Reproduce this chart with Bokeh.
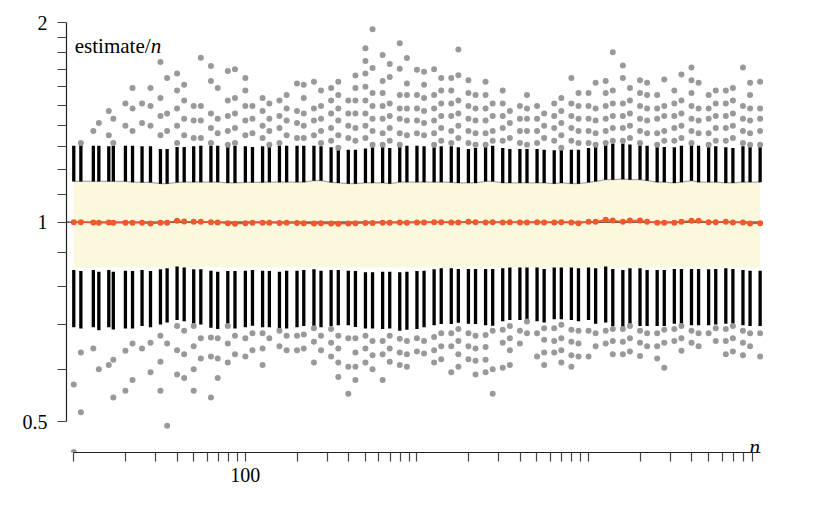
from bokeh.plotting import figure
from bokeh.models import FixedTicker, CustomJSTickFormatter, ColumnDataSource, Range1d
from bokeh.core.properties import value
from bokeh.embed import file_html
from bokeh.resources import INLINE
import json

# ---------------- data ----------------
n_values = [10, 11, 13, 14, 16, 17, 20, 22, 25, 28, 32, 35, 40, 44, 50, 55, 63, 69, 79, 87,
            100, 110, 126, 138, 158, 174, 200, 219, 251, 276, 316, 348, 398, 438, 501, 551,
            631, 694, 794, 874, 1000, 1100, 1259, 1385, 1585, 1743, 1995, 2195, 2512, 2763,
            3162, 3479, 3981, 4379, 5012, 5513, 6310, 6941, 7943, 8738, 10000, 11000, 12589,
            13848, 15849, 17434, 19953, 21948, 25119, 27631, 31623, 34785, 39811, 43792,
            50119, 55131, 63096, 69405, 79433, 87376, 100000]

median = [1.000, 1.000, 0.999, 0.998, 0.999, 0.998, 0.998, 0.998, 0.998, 0.995, 0.998, 0.998,
          1.0045, 1.002, 1.001, 1.001, 1.000, 0.999, 0.9965, 0.994, 0.9965, 0.998, 0.998, 0.998,
          0.997, 0.998, 0.997, 0.996, 0.995, 0.996, 0.995, 0.994, 0.995, 0.996, 0.997, 0.997,
          0.998, 0.998, 0.999, 0.998, 0.999, 0.999, 1.000, 1.000, 0.999, 0.999, 1.001, 1.000,
          0.999, 1.000, 0.999, 1.000, 0.999, 0.999, 1.000, 0.999, 0.999, 1.000, 0.999, 0.9965,
          1.001, 1.001, 1.008, 1.0056, 1.001, 1.0056, 1.0056, 1.001, 0.998, 0.998, 0.998, 1.001,
          1.0045, 1.0045, 1.000, 1.000, 1.001, 0.999, 0.999, 0.995, 0.9965]

upper_whisker_top = [1.304, 1.309, 1.304, 1.304, 1.301, 1.304, 1.304, 1.304, 1.301, 1.301, 1.289,
                     1.289, 1.298, 1.298, 1.301, 1.304, 1.304, 1.304, 1.298, 1.304, 1.301, 1.298,
                     1.301, 1.304, 1.304, 1.304, 1.304, 1.304, 1.304, 1.301, 1.297, 1.294, 1.286,
                     1.286, 1.291, 1.297, 1.301, 1.294, 1.304, 1.304, 1.304, 1.301, 1.297, 1.301,
                     1.301, 1.297, 1.289, 1.294, 1.304, 1.304, 1.294, 1.289, 1.289, 1.289, 1.289,
                     1.286, 1.283, 1.289, 1.286, 1.286, 1.294, 1.298, 1.314, 1.314, 1.314, 1.309,
                     1.314, 1.304, 1.301, 1.298, 1.297, 1.304, 1.314, 1.304, 1.301, 1.301, 1.297,
                     1.294, 1.301, 1.301, 1.301]

upper_whisker_bottom = [1.152, 1.152, 1.152, 1.152, 1.152, 1.152, 1.152, 1.149, 1.148, 1.148, 1.143,
                        1.143, 1.148, 1.149, 1.149, 1.149, 1.149, 1.149, 1.146, 1.146, 1.148, 1.148,
                        1.148, 1.149, 1.149, 1.149, 1.149, 1.149, 1.155, 1.155, 1.148, 1.146, 1.143,
                        1.143, 1.146, 1.146, 1.146, 1.143, 1.149, 1.149, 1.149, 1.149, 1.149, 1.149,
                        1.148, 1.146, 1.146, 1.146, 1.152, 1.152, 1.146, 1.146, 1.146, 1.146, 1.146,
                        1.146, 1.143, 1.146, 1.143, 1.143, 1.148, 1.152, 1.159, 1.159, 1.161, 1.159,
                        1.159, 1.155, 1.149, 1.149, 1.146, 1.149, 1.155, 1.149, 1.149, 1.149, 1.146,
                        1.146, 1.149, 1.149, 1.149]

lower_whisker_top = [0.847, 0.844, 0.847, 0.842, 0.847, 0.842, 0.845, 0.844, 0.847, 0.844, 0.849,
                     0.852, 0.857, 0.854, 0.849, 0.849, 0.845, 0.842, 0.844, 0.844, 0.845, 0.847,
                     0.845, 0.844, 0.842, 0.845, 0.845, 0.847, 0.849, 0.845, 0.847, 0.847, 0.845,
                     0.844, 0.840, 0.840, 0.842, 0.842, 0.840, 0.842, 0.844, 0.845, 0.849, 0.852,
                     0.852, 0.850, 0.850, 0.850, 0.850, 0.850, 0.852, 0.854, 0.854, 0.854, 0.854,
                     0.850, 0.854, 0.854, 0.854, 0.852, 0.854, 0.852, 0.857, 0.850, 0.847, 0.852,
                     0.852, 0.847, 0.847, 0.847, 0.850, 0.850, 0.850, 0.850, 0.849, 0.850, 0.852,
                     0.850, 0.847, 0.845, 0.845]

lower_whisker_bottom = [0.694, 0.691, 0.694, 0.687, 0.694, 0.689, 0.691, 0.691, 0.697, 0.694, 0.701,
                        0.706, 0.712, 0.709, 0.703, 0.701, 0.693, 0.690, 0.697, 0.691, 0.694, 0.698,
                        0.694, 0.694, 0.689, 0.691, 0.694, 0.697, 0.694, 0.694, 0.697, 0.699, 0.699,
                        0.695, 0.691, 0.691, 0.690, 0.691, 0.686, 0.688, 0.690, 0.694, 0.699, 0.702,
                        0.702, 0.705, 0.703, 0.702, 0.699, 0.698, 0.709, 0.712, 0.712, 0.714, 0.709,
                        0.706, 0.714, 0.714, 0.712, 0.709, 0.712, 0.703, 0.706, 0.697, 0.693, 0.699,
                        0.697, 0.697, 0.697, 0.697, 0.703, 0.701, 0.699, 0.699, 0.699, 0.701, 0.703,
                        0.699, 0.699, 0.697, 0.697]

band_bottom = 0.854

upper_outliers = [
    [], [1.316], [1.372], [1.411], [1.471, 1.352], [1.432, 1.316], [1.510, 1.398],
    [1.593, 1.484, 1.372], [1.510, 1.411], [1.593, 1.497, 1.398],
    [1.743, 1.539, 1.446, 1.352], [1.650, 1.458, 1.372],
    [1.675, 1.580, 1.484, 1.398, 1.316], [1.611, 1.526, 1.432, 1.352],
    [1.497, 1.423, 1.339], [1.770, 1.497, 1.423, 1.339],
    [1.719, 1.632, 1.458, 1.386, 1.316], [1.593, 1.432, 1.362],
    [1.690, 1.526, 1.446, 1.372, 1.308], [1.700, 1.539, 1.458, 1.386, 1.316],
    [1.650, 1.580, 1.497, 1.423, 1.352], [1.497, 1.432, 1.362],
    [1.539, 1.471, 1.398, 1.339], [1.510, 1.432, 1.372, 1.308],
    [1.526, 1.446, 1.386, 1.316], [1.555, 1.484, 1.423, 1.352],
    [1.618, 1.471, 1.411, 1.339], [1.611, 1.539, 1.458, 1.398, 1.339],
    [1.628, 1.484, 1.423, 1.352], [1.580, 1.497, 1.432, 1.372, 1.316],
    [1.593, 1.526, 1.458, 1.386, 1.327], [1.628, 1.555, 1.484, 1.423, 1.352, 1.295],
    [1.526, 1.458, 1.398, 1.339], [1.664, 1.593, 1.526, 1.458, 1.386, 1.327],
    [1.829, 1.749, 1.675, 1.600, 1.526, 1.458, 1.398, 1.339],
    [1.954, 1.707, 1.566, 1.497, 1.432, 1.372, 1.308],
    [1.787, 1.632, 1.566, 1.497, 1.432, 1.362, 1.308],
    [1.731, 1.655, 1.510, 1.446, 1.386, 1.327],
    [1.861, 1.704, 1.555, 1.484, 1.432, 1.362, 1.308],
    [1.768, 1.618, 1.555, 1.484, 1.423, 1.352],
    [1.697, 1.555, 1.484, 1.423, 1.362],
    [1.686, 1.611, 1.539, 1.471, 1.411, 1.352],
    [1.700, 1.555, 1.484, 1.423, 1.362, 1.308],
    [1.650, 1.580, 1.510, 1.446, 1.386, 1.327],
    [1.650, 1.580, 1.510, 1.446, 1.372, 1.316],
    [1.821, 1.666, 1.526, 1.458, 1.398, 1.339],
    [1.636, 1.566, 1.497, 1.432, 1.372, 1.316],
    [1.555, 1.484, 1.423, 1.362, 1.308],
    [1.628, 1.555, 1.484, 1.423, 1.362, 1.308],
    [1.510, 1.446, 1.372, 1.327],
    [1.580, 1.510, 1.446, 1.386, 1.327],
    [1.471, 1.411, 1.339],
    [1.497, 1.432, 1.372, 1.316],
    [1.555, 1.484, 1.432, 1.372, 1.308],
    [1.497, 1.432, 1.372, 1.316],
    [1.458, 1.398, 1.339],
    [1.510, 1.446, 1.386, 1.327],
    [1.539, 1.471, 1.411, 1.352, 1.295],
    [1.650, 1.510, 1.446, 1.386, 1.327],
    [1.566, 1.497, 1.432, 1.372, 1.316],
    [1.566, 1.497, 1.432, 1.372, 1.316],
    [1.623, 1.484, 1.423, 1.362, 1.308],
    [1.632, 1.566, 1.497, 1.432, 1.372, 1.316],
    [1.804, 1.580, 1.510, 1.446, 1.386, 1.327],
    [1.722, 1.650, 1.510, 1.446, 1.386, 1.327],
    [1.593, 1.526, 1.458, 1.398, 1.339],
    [1.636, 1.566, 1.497, 1.432, 1.372, 1.316],
    [1.623, 1.555, 1.484, 1.423, 1.362],
    [1.555, 1.484, 1.432, 1.362, 1.308],
    [1.641, 1.497, 1.446, 1.372, 1.327],
    [1.580, 1.510, 1.446, 1.386, 1.327],
    [1.670, 1.526, 1.458, 1.398, 1.339],
    [1.710, 1.636, 1.566, 1.497, 1.432, 1.372, 1.316],
    [1.623, 1.484, 1.423, 1.362],
    [1.555, 1.484, 1.432, 1.362, 1.308],
    [1.580, 1.510, 1.446, 1.386, 1.327],
    [1.580, 1.510, 1.446, 1.386, 1.327],
    [1.593, 1.526, 1.458, 1.398, 1.339],
    [1.710, 1.497, 1.432, 1.372, 1.316],
    [1.623, 1.555, 1.484, 1.423, 1.362, 1.308],
    [1.628, 1.484, 1.432, 1.372, 1.308],
]

lower_outliers = [
    [0.569, 0.450], [0.636, 0.517], [0.645], [0.600], [0.609], [0.620, 0.544],
    [0.640, 0.557], [0.656, 0.578], [0.645], [0.658, 0.594], [0.674, 0.616, 0.557],
    [0.656, 0.493], [0.697, 0.641, 0.589], [0.686, 0.632, 0.582],
    [0.697, 0.650, 0.600, 0.557], [0.668, 0.623], [0.670, 0.627, 0.544],
    [0.668, 0.623, 0.582], [0.697, 0.656, 0.614], [0.674, 0.632], [0.668, 0.627],
    [0.680, 0.641], [0.680, 0.645, 0.609], [0.668], [0.686, 0.650], [0.674, 0.641],
    [0.674, 0.641], [0.677, 0.645], [0.692, 0.660, 0.614], [0.674, 0.641],
    [0.690, 0.658, 0.627], [0.674, 0.645, 0.614, 0.584], [0.668, 0.605, 0.551],
    [0.668, 0.636, 0.605, 0.578], [0.674, 0.645, 0.614], [0.662, 0.630, 0.600],
    [0.662, 0.632, 0.578], [0.674, 0.645, 0.616], [0.667, 0.636, 0.609],
    [0.662, 0.632, 0.605], [0.668, 0.638], [0.662, 0.634], [0.671, 0.641, 0.614],
    [0.680, 0.650, 0.621], [0.680, 0.650, 0.594], [0.690, 0.662, 0.632, 0.605],
    [0.680, 0.650, 0.621], [0.674, 0.645, 0.618, 0.589], [0.676, 0.648, 0.620, 0.594],
    [0.686, 0.600, 0.551], [0.688, 0.658, 0.603], [0.697, 0.668, 0.641, 0.609],
    [0.686, 0.656], [0.708, 0.680], [0.680, 0.627], [0.692, 0.665, 0.636, 0.609],
    [0.692, 0.662, 0.636], [0.700, 0.668, 0.641, 0.614], [0.688, 0.660, 0.630, 0.605],
    [0.686, 0.656, 0.627], [0.686, 0.627], [0.680, 0.650], [0.686, 0.656],
    [0.690, 0.662, 0.632], [0.690, 0.660, 0.632], [0.697, 0.668, 0.638],
    [0.686, 0.658, 0.628], [0.680, 0.650], [0.680, 0.650, 0.623], [0.688, 0.658, 0.603],
    [0.690, 0.662], [0.697, 0.668, 0.640], [0.686, 0.658], [0.680, 0.650], [0.680],
    [0.692, 0.662], [0.690, 0.662, 0.632], [0.697, 0.668, 0.638], [0.686, 0.658, 0.630],
    [0.680, 0.650], [0.680, 0.627],
]

x_ticks = [10, 20, 30, 40, 50, 60, 70, 80, 90,
           100, 200, 300, 400, 500, 600, 700, 800, 900,
           1000, 2000, 3000, 4000, 5000, 6000, 7000, 8000, 9000,
           10000, 20000, 30000, 40000, 50000, 60000, 70000, 80000, 90000]
x_tick_labels = ["100" if t == 100 else "" for t in x_ticks]
y_ticks = [0.5, 0.6, 0.7, 0.8, 0.9, 1.0, 1.1, 1.2, 1.3, 1.4, 1.5, 1.6, 1.7, 1.8, 1.9, 2.0]
y_tick_labels = ["0.5", "", "", "", "", "1", "", "", "", "", "", "", "", "", "", "2"]

# ---------------- layout constants ----------------
X_START, X_END = 9.07, 111900
Y_START, Y_END = 0.4494, 2.0
FONT = "Liberation Serif"
GRAY = "#999999"
RED = "#f0592b"
BAND = "#fcf8de"

p = figure(width=800, height=500, x_axis_type="log", y_axis_type="log",
           x_range=Range1d(X_START, X_END), y_range=Range1d(Y_START, Y_END),
           output_backend="svg", toolbar_location=None,
           min_border_left=66, min_border_right=32, min_border_top=22, min_border_bottom=48)
p.grid.visible = False
p.outline_line_color = None
p.background_fill_color = "white"


def fmt(ticks, labels):
    code = ("const t=%s; const l=%s; for (let i=0;i<t.length;i++){"
            " if (Math.abs(t[i]-tick) <= 1e-6*t[i]) return l[i]; } return '';"
            % (json.dumps(ticks), json.dumps(labels)))
    return CustomJSTickFormatter(code=code)


for ax, ticks, labels, bounds in ((p.xaxis[0], x_ticks, x_tick_labels, (n_values[0], n_values[-1])),
                                  (p.yaxis[0], y_ticks, y_tick_labels, (y_ticks[0], y_ticks[-1]))):
    ax.ticker = FixedTicker(ticks=ticks, minor_ticks=[])
    ax.formatter = fmt(ticks, labels)
    ax.bounds = bounds
    ax.axis_line_color = "#222222"
    ax.axis_line_width = 1.2
    ax.major_tick_line_color = "#444444"
    ax.major_tick_line_width = 1.2
    ax.major_tick_out = 9
    ax.major_tick_in = 0
    ax.minor_tick_line_color = None
    ax.major_label_text_font = FONT
    ax.major_label_text_font_size = "20px"
    ax.major_label_text_color = "black"

p.yaxis.major_label_standoff = 10
p.xaxis.major_label_standoff = 6

# band
band_x = list(n_values) + list(reversed(n_values))
band_y = list(upper_whisker_bottom) + [band_bottom] * len(n_values)
p.patch(band_x, band_y, fill_color=BAND, line_color=None)
p.line(n_values, upper_whisker_bottom, line_color="#aaaaaa", line_width=1.3)

# reference line at 1
p.segment(x0=[X_START], y0=[1.0], x1=[n_values[-1]], y1=[1.0], line_color="black", line_width=1)

# whisker bars
src = ColumnDataSource(dict(n=n_values, ut=upper_whisker_top, ub=upper_whisker_bottom,
                            lt=lower_whisker_top, lb=lower_whisker_bottom, med=median))
p.segment(x0="n", y0="ub", x1="n", y1="ut", source=src, line_color="black", line_width=3.3,
          line_cap="butt")
p.segment(x0="n", y0="lb", x1="n", y1="lt", source=src, line_color="black", line_width=3.3,
          line_cap="butt")

# medians
p.line("n", "med", source=src, line_color=RED, line_width=1.5)
p.scatter("n", "med", source=src, size=6, fill_color=RED, line_color=None)

# outliers
ox, oy = [], []
for n, ups, lows in zip(n_values, upper_outliers, lower_outliers):
    for v in ups + lows:
        ox.append(n)
        oy.append(v)
p.scatter(ox, oy, size=6, fill_color=GRAY, line_color=None)

# axis titles
LABEL_Y = 1.845
p.text(x=[n_values[0]], y=[LABEL_Y], text=["estimate/"], text_font=value(FONT),
       text_font_size=value("21px"), text_align="left", text_baseline="alphabetic",
       x_offset=1, text_color="black")
p.text(x=[n_values[0]], y=[LABEL_Y], text=["n"], text_font=value(FONT),
       text_font_size=value("21px"), text_font_style="italic", text_align="left",
       text_baseline="alphabetic", x_offset=77, text_color="black")
p.text(x=[n_values[-1]], y=[0.4575], text=["n"], text_font=value(FONT),
       text_font_size=value("21px"), text_font_style="italic", text_align="right",
       text_baseline="alphabetic", text_color="black")

open("out.html", "w").write(file_html(p, INLINE))
